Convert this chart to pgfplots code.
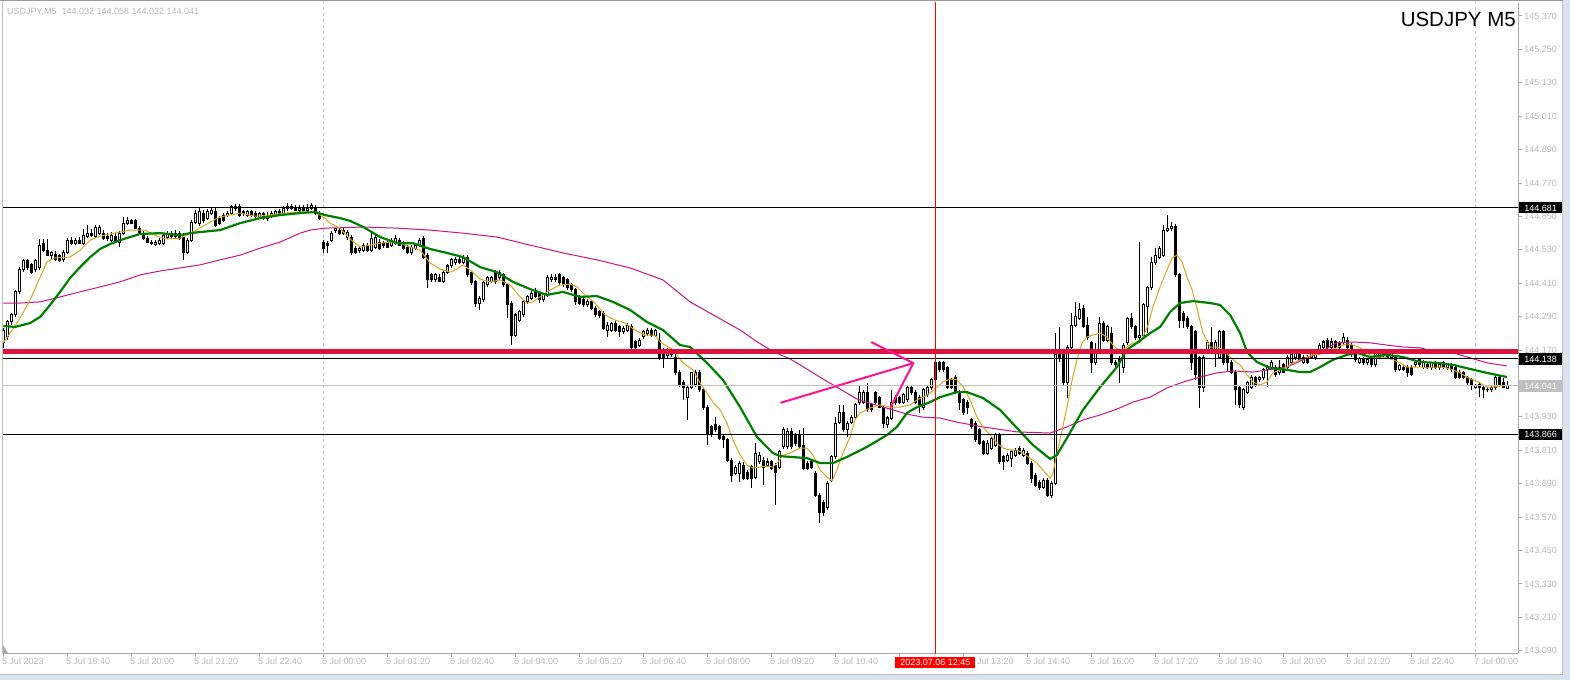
\documentclass[border=0pt]{standalone}
\usepackage{pgfplots}
\pgfplotsset{compat=1.18}
\usepackage{pgfplotstable}
\usepackage{fontspec}
\setmainfont{Liberation Sans}
\definecolor{tickgray}{RGB}{185,185,185}
\definecolor{axisgray}{RGB}{170,170,170}
\definecolor{silver}{RGB}{192,192,192}
\definecolor{maorange}{RGB}{218,165,32}
\definecolor{magreen}{RGB}{0,128,0}
\definecolor{mamag}{RGB}{199,21,133}
\definecolor{crimsonl}{RGB}{220,20,60}
\definecolor{arrowpink}{RGB}{255,20,147}
\definecolor{bandblue}{RGB}{218,228,240}

\pgfplotstableread{
x o h l c
0 144.196 144.249 144.178 144.239
1 144.217 144.278 144.206 144.271
2 144.271 144.303 144.260 144.296
3 144.296 144.386 144.289 144.379
4 144.379 144.468 144.371 144.461
5 144.458 144.497 144.450 144.490
6 144.490 144.497 144.458 144.465
7 144.476 144.483 144.443 144.450
8 144.458 144.497 144.450 144.490
9 144.465 144.569 144.458 144.544
10 144.554 144.569 144.522 144.529
11 144.526 144.569 144.508 144.511
12 144.511 144.526 144.497 144.519
13 144.515 144.526 144.490 144.497
14 144.508 144.515 144.486 144.490
15 144.494 144.529 144.486 144.522
16 144.522 144.572 144.515 144.565
17 144.565 144.576 144.547 144.554
18 144.554 144.572 144.547 144.565
19 144.565 144.576 144.551 144.554
20 144.554 144.605 144.547 144.583
21 144.579 144.619 144.572 144.590
22 144.590 144.605 144.576 144.583
23 144.579 144.619 144.572 144.612
24 144.590 144.619 144.583 144.612
25 144.590 144.601 144.565 144.572
26 144.579 144.590 144.562 144.569
27 144.565 144.594 144.558 144.583
28 144.579 144.590 144.554 144.558
29 144.558 144.598 144.540 144.590
30 144.590 144.648 144.583 144.626
31 144.626 144.648 144.619 144.634
32 144.634 144.641 144.623 144.626
33 144.634 144.641 144.605 144.608
34 144.608 144.615 144.587 144.594
35 144.590 144.598 144.565 144.572
36 144.572 144.579 144.554 144.558
37 144.558 144.565 144.547 144.554
38 144.551 144.565 144.544 144.558
39 144.554 144.572 144.547 144.565
40 144.554 144.590 144.547 144.583
41 144.576 144.598 144.569 144.590
42 144.590 144.598 144.572 144.579
43 144.579 144.601 144.572 144.590
44 144.587 144.598 144.565 144.572
45 144.576 144.590 144.494 144.522
46 144.522 144.572 144.515 144.565
47 144.565 144.637 144.558 144.630
48 144.630 144.673 144.623 144.662
49 144.623 144.680 144.615 144.666
50 144.662 144.673 144.626 144.634
51 144.644 144.677 144.637 144.666
52 144.662 144.684 144.655 144.673
53 144.666 144.680 144.612 144.619
54 144.641 144.651 144.619 144.626
55 144.655 144.662 144.630 144.637
56 144.655 144.670 144.648 144.662
57 144.662 144.691 144.655 144.684
58 144.677 144.695 144.670 144.687
59 144.684 144.695 144.648 144.655
60 144.666 144.673 144.651 144.659
61 144.655 144.673 144.648 144.666
62 144.666 144.673 144.648 144.655
63 144.659 144.670 144.644 144.648
64 144.648 144.666 144.641 144.659
65 144.659 144.666 144.637 144.644
66 144.655 144.666 144.634 144.641
67 144.651 144.670 144.644 144.662
68 144.655 144.673 144.648 144.666
69 144.666 144.677 144.651 144.655
70 144.662 144.687 144.655 144.680
71 144.677 144.698 144.670 144.687
72 144.687 144.695 144.673 144.680
73 144.680 144.691 144.670 144.673
74 144.673 144.691 144.666 144.680
75 144.680 144.691 144.670 144.673
76 144.673 144.695 144.666 144.680
77 144.680 144.698 144.673 144.691
78 144.680 144.691 144.655 144.662
79 144.662 144.670 144.637 144.644
80 144.558 144.565 144.519 144.536
81 144.554 144.562 144.519 144.544
82 144.565 144.598 144.558 144.590
83 144.598 144.608 144.590 144.605
84 144.601 144.608 144.583 144.590
85 144.590 144.608 144.583 144.601
86 144.576 144.601 144.565 144.594
87 144.576 144.583 144.511 144.519
88 144.536 144.544 144.515 144.522
89 144.526 144.544 144.519 144.536
90 144.529 144.554 144.522 144.547
91 144.547 144.554 144.522 144.529
92 144.529 144.598 144.522 144.572
93 144.540 144.583 144.533 144.576
94 144.558 144.569 144.529 144.536
95 144.554 144.562 144.536 144.544
96 144.558 144.565 144.536 144.540
97 144.547 144.572 144.540 144.565
98 144.554 144.583 144.547 144.572
99 144.565 144.572 144.544 144.547
100 144.554 144.562 144.529 144.536
101 144.540 144.547 144.515 144.522
102 144.522 144.547 144.511 144.540
103 144.536 144.554 144.529 144.547
104 144.547 144.572 144.540 144.565
105 144.569 144.579 144.497 144.504
106 144.511 144.519 144.393 144.422
107 144.440 144.447 144.415 144.422
108 144.422 144.447 144.415 144.440
109 144.432 144.443 144.415 144.418
110 144.418 144.458 144.411 144.450
111 144.450 144.479 144.443 144.472
112 144.472 144.501 144.465 144.494
113 144.483 144.504 144.476 144.497
114 144.497 144.504 144.479 144.486
115 144.486 144.511 144.479 144.504
116 144.504 144.511 144.432 144.440
117 144.447 144.454 144.404 144.411
118 144.415 144.422 144.325 144.339
119 144.339 144.364 144.314 144.357
120 144.350 144.418 144.343 144.411
121 144.404 144.436 144.397 144.429
122 144.418 144.436 144.411 144.429
123 144.450 144.458 144.407 144.415
124 144.429 144.458 144.422 144.450
125 144.440 144.447 144.397 144.404
126 144.404 144.411 144.285 144.332
127 144.339 144.346 144.188 144.224
128 144.224 144.303 144.217 144.296
129 144.278 144.314 144.271 144.307
130 144.296 144.350 144.289 144.343
131 144.343 144.368 144.336 144.361
132 144.357 144.382 144.350 144.375
133 144.379 144.393 144.357 144.361
134 144.375 144.382 144.339 144.350
135 144.350 144.375 144.343 144.368
136 144.368 144.440 144.361 144.429
137 144.422 144.443 144.415 144.432
138 144.432 144.443 144.415 144.422
139 144.440 144.447 144.404 144.411
140 144.429 144.436 144.397 144.404
141 144.422 144.429 144.386 144.393
142 144.404 144.411 144.379 144.386
143 144.386 144.393 144.332 144.343
144 144.361 144.368 144.332 144.339
145 144.350 144.357 144.325 144.332
146 144.332 144.354 144.325 144.343
147 144.343 144.350 144.314 144.321
148 144.321 144.328 144.289 144.296
149 144.307 144.314 144.285 144.293
150 144.303 144.310 144.242 144.249
151 144.242 144.271 144.217 144.260
152 144.242 144.271 144.235 144.267
153 144.267 144.275 144.235 144.242
154 144.253 144.260 144.217 144.235
155 144.235 144.257 144.228 144.249
156 144.242 144.267 144.235 144.260
157 144.253 144.264 144.171 144.178
158 144.199 144.206 144.171 144.178
159 144.188 144.214 144.181 144.206
160 144.217 144.242 144.210 144.235
161 144.228 144.249 144.221 144.242
162 144.242 144.249 144.217 144.224
163 144.224 144.246 144.217 144.239
164 144.206 144.231 144.135 144.145
165 144.171 144.178 144.106 144.145
166 144.149 144.178 144.142 144.171
167 144.171 144.178 144.145 144.153
168 144.145 144.160 144.081 144.088
169 144.091 144.099 144.037 144.045
170 144.052 144.063 143.991 144.034
171 144.001 144.041 143.919 144.034
172 144.037 144.091 144.030 144.088
173 144.045 144.099 144.037 144.091
174 144.091 144.099 144.019 144.027
175 144.027 144.034 143.955 143.962
176 143.965 143.973 143.829 143.865
177 143.894 143.901 143.858 143.865
178 143.901 143.929 143.876 143.883
179 143.894 143.901 143.847 143.854
180 143.858 143.865 143.818 143.847
181 143.847 143.854 143.768 143.775
182 143.775 143.782 143.696 143.721
183 143.728 143.757 143.721 143.750
184 143.728 143.771 143.696 143.764
185 143.757 143.768 143.703 143.710
186 143.732 143.739 143.703 143.710
187 143.750 143.757 143.674 143.710
188 143.714 143.836 143.707 143.800
189 143.768 143.804 143.761 143.793
190 143.775 143.786 143.685 143.750
191 143.757 143.782 143.750 143.768
192 143.768 143.775 143.739 143.746
193 143.757 143.764 143.613 143.732
194 143.750 143.811 143.743 143.804
195 143.822 143.894 143.814 143.883
196 143.822 143.890 143.814 143.876
197 143.876 143.890 143.814 143.822
198 143.865 143.872 143.825 143.836
199 143.865 143.883 143.818 143.822
200 143.829 143.890 143.739 143.746
201 143.764 143.771 143.739 143.746
202 143.768 143.775 143.743 143.750
203 143.728 143.735 143.642 143.649
204 143.649 143.656 143.549 143.585
205 143.624 143.631 143.574 143.585
206 143.606 143.700 143.595 143.692
207 143.703 143.793 143.696 143.786
208 143.786 143.929 143.779 143.908
209 143.911 143.973 143.904 143.947
210 143.944 143.973 143.876 143.883
211 143.883 143.915 143.858 143.908
212 143.911 143.937 143.904 143.929
213 143.929 143.980 143.922 143.973
214 143.980 144.045 143.973 144.019
215 143.983 144.027 143.976 144.019
216 144.019 144.052 143.947 143.955
217 143.973 143.980 143.947 143.955
218 144.016 144.023 143.973 143.980
219 143.998 144.005 143.962 143.965
220 143.965 143.973 143.890 143.908
221 143.901 143.933 143.890 143.926
222 143.926 144.027 143.919 143.983
223 144.001 144.009 143.973 143.980
224 143.998 144.005 143.976 143.983
225 143.983 144.016 143.976 144.009
226 143.991 144.041 143.983 144.034
227 144.034 144.041 144.009 144.016
228 144.019 144.027 143.976 143.983
229 144.001 144.009 143.944 143.973
230 143.965 144.034 143.955 144.027
231 144.009 144.045 144.001 144.037
232 144.034 144.070 144.027 144.063
233 144.063 144.135 144.055 144.124
234 144.124 144.131 144.091 144.099
235 144.124 144.131 144.091 144.099
236 144.106 144.113 144.030 144.037
237 144.063 144.070 144.030 144.037
238 144.070 144.081 144.012 144.019
239 144.019 144.027 143.955 143.983
240 143.991 143.998 143.937 143.944
241 143.983 143.991 143.940 143.965
242 143.919 143.926 143.886 143.894
243 143.908 143.915 143.840 143.847
244 143.883 143.890 143.829 143.836
245 143.840 143.847 143.793 143.800
246 143.800 143.847 143.793 143.836
247 143.818 143.861 143.811 143.854
248 143.829 143.872 143.822 143.865
249 143.865 143.872 143.761 143.768
250 143.786 143.793 143.739 143.768
251 143.775 143.800 143.768 143.793
252 143.782 143.811 143.750 143.804
253 143.793 143.818 143.786 143.811
254 143.818 143.825 143.793 143.800
255 143.793 143.818 143.786 143.811
256 143.800 143.807 143.757 143.764
257 143.764 143.771 143.692 143.710
258 143.721 143.728 143.678 143.685
259 143.696 143.703 143.667 143.678
260 143.678 143.710 143.671 143.703
261 143.703 143.710 143.642 143.649
262 143.649 143.700 143.638 143.692
263 143.692 144.231 143.685 144.153
264 144.153 144.253 144.127 144.142
265 144.160 144.171 144.045 144.052
266 144.052 144.188 143.998 144.181
267 144.181 144.303 144.174 144.260
268 144.260 144.343 144.253 144.289
269 144.285 144.339 144.278 144.314
270 144.321 144.332 144.249 144.253
271 144.260 144.289 144.206 144.214
272 144.196 144.203 144.088 144.124
273 144.124 144.196 144.117 144.171
274 144.171 144.289 144.163 144.267
275 144.267 144.275 144.199 144.206
276 144.206 144.260 144.199 144.253
277 144.231 144.253 144.117 144.127
278 144.127 144.135 144.106 144.117
279 144.135 144.149 144.052 144.124
280 144.109 144.196 144.088 144.188
281 144.196 144.289 144.188 144.285
282 144.285 144.303 144.246 144.253
283 144.253 144.260 144.206 144.214
284 144.214 144.558 144.196 144.224
285 144.224 144.339 144.217 144.332
286 144.325 144.400 144.231 144.393
287 144.393 144.504 144.386 144.486
288 144.483 144.536 144.476 144.511
289 144.504 144.544 144.497 144.536
290 144.511 144.619 144.504 144.601
291 144.601 144.655 144.594 144.608
292 144.605 144.630 144.598 144.615
293 144.615 144.623 144.432 144.440
294 144.440 144.447 144.249 144.278
295 144.303 144.310 144.249 144.278
296 144.285 144.293 144.246 144.253
297 144.253 144.260 144.099 144.127
298 144.235 144.242 144.063 144.081
299 144.142 144.149 143.962 144.037
300 144.037 144.153 144.019 144.145
301 144.171 144.206 144.163 144.196
302 144.196 144.253 144.163 144.171
303 144.171 144.206 144.109 144.196
304 144.145 144.242 144.138 144.235
305 144.235 144.242 144.117 144.124
306 144.160 144.171 144.091 144.124
307 144.127 144.135 144.084 144.091
308 144.091 144.099 143.973 144.027
309 144.034 144.041 143.962 143.973
310 143.965 144.034 143.955 144.027
311 144.019 144.059 144.012 144.052
312 144.037 144.081 144.030 144.073
313 144.070 144.077 144.037 144.045
314 144.063 144.077 144.055 144.070
315 144.070 144.106 144.063 144.099
316 144.099 144.117 144.037 144.109
317 144.109 144.135 144.102 144.127
318 144.109 144.117 144.073 144.081
319 144.088 144.135 144.081 144.109
320 144.117 144.124 144.088 144.091
321 144.109 144.153 144.102 144.145
322 144.127 144.160 144.120 144.153
323 144.142 144.163 144.135 144.160
324 144.160 144.167 144.127 144.135
325 144.127 144.153 144.120 144.145
326 144.145 144.153 144.120 144.127
327 144.145 144.163 144.138 144.156
328 144.142 144.171 144.135 144.163
329 144.160 144.196 144.153 144.188
330 144.178 144.206 144.171 144.199
331 144.206 144.214 144.171 144.178
332 144.178 144.214 144.171 144.199
333 144.199 144.206 144.178 144.181
334 144.196 144.203 144.174 144.181
335 144.196 144.231 144.188 144.214
336 144.206 144.217 144.171 144.178
337 144.188 144.196 144.145 144.153
338 144.153 144.160 144.127 144.135
339 144.127 144.145 144.120 144.138
340 144.138 144.145 144.117 144.124
341 144.124 144.142 144.117 144.135
342 144.135 144.142 144.109 144.117
343 144.117 144.167 144.109 144.160
344 144.145 144.167 144.138 144.160
345 144.160 144.167 144.142 144.149
346 144.160 144.167 144.138 144.145
347 144.142 144.167 144.135 144.160
348 144.142 144.149 144.091 144.099
349 144.102 144.120 144.095 144.113
350 144.109 144.117 144.095 144.099
351 144.109 144.117 144.073 144.088
352 144.109 144.117 144.077 144.081
353 144.117 144.135 144.109 144.127
354 144.135 144.142 144.109 144.117
355 144.109 144.135 144.102 144.127
356 144.117 144.124 144.102 144.106
357 144.106 144.127 144.099 144.124
358 144.124 144.131 144.102 144.106
359 144.106 144.124 144.099 144.117
360 144.124 144.131 144.102 144.106
361 144.106 144.124 144.099 144.117
362 144.117 144.124 144.091 144.099
363 144.106 144.113 144.066 144.073
364 144.091 144.099 144.066 144.073
365 144.088 144.095 144.066 144.073
366 144.070 144.077 144.045 144.052
367 144.063 144.070 144.027 144.045
368 144.037 144.048 144.030 144.041
369 144.045 144.052 144.001 144.034
370 144.034 144.041 143.998 144.027
371 144.027 144.037 144.019 144.030
372 144.027 144.041 144.019 144.034
373 144.034 144.081 144.027 144.070
374 144.070 144.081 144.037 144.045
375 144.052 144.070 144.034 144.037
376 144.032 144.058 144.032 144.041
}\candles

\begin{document}
\begin{tikzpicture}[x=1pt,y=1pt]
\useasboundingbox (0,0) rectangle (1570,680);
\fill[white] (0,0) rectangle (1570,680);
% window frame
\fill[bandblue] (1563,0) rectangle (1570,680);
\fill[bandblue] (0,0) rectangle (1570,5.5);
\draw[silver, line width=0.8pt] (0,6) -- (1562.5,6) -- (1562.5,680);
\draw[gray!80, line width=1.3pt] (0,679.4) -- (1563,679.4);
\draw[silver, line width=0.8pt] (2.4,27) -- (2.4,679);
\fill[axisgray] (3,35) -- (3,27) -- (8,27) -- cycle;

\begin{axis}[
  at={(3pt,27pt)}, anchor=south west,
  width=1515pt, height=650pt, scale only axis,
  xmin=-0.075, xmax=378.675, ymin=143.0819, ymax=145.4167,
  axis x line*=bottom, axis y line*=right,
  axis line style={draw=axisgray, line width=1pt},
  tick align=outside, major tick length=4pt,
  tick style={draw=axisgray, line width=1pt},
  xtick={0,16,...,368},
  xticklabels={5 Jul 2023,5 Jul 18:40,5 Jul 20:00,5 Jul 21:20,5 Jul 22:40,6 Jul 00:00,6 Jul 01:20,6 Jul 02:40,6 Jul 04:00,6 Jul 05:20,6 Jul 06:40,6 Jul 08:00,6 Jul 09:20,6 Jul 10:40,{},{},6 Jul 14:40,6 Jul 16:00,6 Jul 17:20,6 Jul 18:40,6 Jul 20:00,6 Jul 21:20,6 Jul 22:40,7 Jul 00:00},
  ytick={143.09,143.21,143.33,143.45,143.57,143.69,143.81,143.93,144.05,144.17,144.29,144.41,144.53,144.65,144.77,144.89,145.01,145.13,145.25,145.37},
  yticklabels={143.090,143.210,143.330,143.450,143.570,143.690,143.810,143.930,{},144.170,144.290,144.410,144.530,144.650,144.770,144.890,145.010,145.130,145.250,145.370},
  /pgf/number format/assume math mode=true,
  xticklabel style={anchor=north west, inner sep=0pt, xshift=-1.5pt, yshift=-0.5pt, font=\fontsize{9}{10}\selectfont, text=tickgray},
  yticklabel style={anchor=west, inner sep=0pt, xshift=2pt, font=\fontsize{9}{10}\selectfont, text=tickgray},
  clip=true,
]
% day separators
\addplot[silver, line width=1pt, dash pattern=on 3pt off 3pt, forget plot] coordinates {(80,143.0) (80,145.5)};
\addplot[silver, line width=1pt, dash pattern=on 3pt off 3pt, forget plot] coordinates {(368,143.0) (368,145.5)};

% wicks
\addplot[draw=none, forget plot, error bars/.cd, y dir=plus, y explicit, error mark=none,
  error bar style={draw=black, line width=1pt, line cap=butt}]
  table[x=x, y expr={\thisrow{l}}, y error plus expr={\thisrow{h}-\thisrow{l}}] {\candles};
% bodies (outline / bearish fill)
\addplot[draw=none, forget plot, error bars/.cd, y dir=plus, y explicit, error mark=none,
  error bar style={draw=black, line width=3pt, line cap=butt}]
  table[x=x, y expr={min(\thisrow{o},\thisrow{c})-0.0018}, y error plus expr={abs(\thisrow{c}-\thisrow{o})+0.0036}] {\candles};
% bullish inner white
\addplot[draw=none, forget plot, error bars/.cd, y dir=plus, y explicit, error mark=none,
  error bar style={draw=white, line width=1pt, line cap=butt}]
  table[x=x, y expr={\thisrow{o}+0.0018}, y error plus expr={max(\thisrow{c}-\thisrow{o}-0.0036,0)}] {\candles};

% moving averages
\addplot[mamag, line width=1pt] coordinates {
(0,144.339) (4.2,144.339) (9.2,144.343) (14.2,144.361) (19.2,144.379) (24.2,144.397) (29.2,144.415) (34.2,144.440) (39.2,144.454) (44.2,144.465) (49.2,144.476) (54.2,144.494) (59.2,144.511) (64.2,144.536) (69.2,144.558) (74.2,144.590) (76.7,144.601) (80.4,144.608) (90,144.612) (98.4,144.608) (106.7,144.601) (114.9,144.590) (123.4,144.576) (131.7,144.547) (139.9,144.519) (148.4,144.494) (156.7,144.465) (164.9,144.422) (171.7,144.343) (184.2,144.242) (188.4,144.200) (192.4,144.165) (196.7,144.138) (200.9,144.102) (204.9,144.066) (209.2,144.030) (213.4,143.994) (217.4,143.976) (221.7,143.958) (225.9,143.940) (229.9,143.929) (234.2,143.926) (238.4,143.911) (244.9,143.894) (253.4,143.876) (261.7,143.872) (265.9,143.894) (269.9,143.919) (274.2,143.937) (278.4,143.958) (282.4,143.983) (286.7,144.001) (290.9,144.034) (294.9,144.055) (299.2,144.073) (303.4,144.088) (307.4,144.095) (312.4,144.091) (320.9,144.109) (324.9,144.135) (329.2,144.163) (333.4,144.196) (337.4,144.199) (341.7,144.196) (345.9,144.188) (349.9,144.181) (354.2,144.178) (358.4,144.163) (362.4,144.160) (366.7,144.142) (370.9,144.124) (375.9,144.113)};
\addplot[maorange, line width=1pt] coordinates {
(0,144.196) (1.7,144.231) (4.2,144.285) (6.7,144.350) (9.2,144.432) (10.9,144.486) (12.9,144.501) (16.7,144.504) (19.2,144.529) (21.7,144.565) (24.2,144.579) (26.7,144.587) (29.2,144.594) (31.7,144.601) (35.4,144.601) (37.9,144.583) (40.4,144.569) (44.2,144.572) (46.7,144.590) (49.2,144.608) (51.7,144.630) (54.2,144.648) (56.7,144.655) (59.2,144.662) (62.9,144.651) (66.7,144.655) (70.4,144.662) (74.2,144.666) (77.9,144.666) (80.4,144.644) (81.7,144.626) (84.2,144.608) (86.7,144.569) (89.2,144.540) (91.7,144.547) (94.2,144.554) (96.7,144.558) (99.2,144.554) (101.7,144.540) (104.2,144.529) (106.7,144.483) (109.2,144.461) (111.7,144.450) (113.4,144.461) (114.9,144.476) (116.7,144.458) (119.2,144.425) (121.7,144.415) (124.2,144.422) (126.7,144.404) (129.2,144.361) (130.9,144.339) (132.4,144.343) (134.2,144.361) (136.7,144.386) (139.2,144.404) (141.7,144.407) (143.4,144.397) (145.4,144.368) (147.9,144.339) (150.4,144.296) (152.9,144.278) (155.4,144.267) (157.9,144.242) (160.4,144.224) (162.9,144.224) (164.2,144.199) (167.4,144.171) (169.9,144.124) (172.4,144.099) (174.2,144.052) (175.9,144.016) (177.4,143.983) (179.2,143.955) (180.9,143.908) (182.4,143.847) (184.2,143.793) (185.9,143.757) (187.4,143.746) (189.2,143.750) (190.9,143.753) (192.4,143.750) (193.7,143.768) (194.9,143.793) (196.7,143.800) (199.2,143.818) (200.9,143.818) (202.4,143.793) (204.2,143.739) (205.9,143.714) (207.2,143.700) (208.4,143.739) (209.9,143.800) (211.7,143.858) (212.9,143.919) (214.2,143.944) (216.7,143.962) (219.2,143.973) (221.7,143.965) (224.2,143.965) (226.7,143.973) (228.4,143.991) (229.9,144.001) (231.7,144.016) (233.4,144.037) (234.9,144.055) (236.7,144.066) (238.4,144.063) (240.0,144.037) (241.7,143.991) (243.4,143.929) (244.9,143.894) (246.7,143.865) (248.4,143.836) (249.9,143.818) (251.7,143.811) (253.4,143.811) (254.9,143.800) (256.7,143.782) (258.4,143.764) (259.9,143.739) (261.7,143.710) (262.4,143.728) (263.4,143.800) (264.7,143.883) (265.9,143.965) (267.2,144.063) (268.4,144.135) (269.7,144.196) (270.9,144.217) (272.4,144.224) (274.2,144.231) (275.9,144.217) (277.4,144.188) (279.2,144.163) (280.9,144.181) (282.4,144.196) (284.2,144.196) (284.9,144.217) (286.2,144.260) (287.4,144.325) (289.2,144.397) (290.9,144.458) (292.2,144.501) (293.4,144.511) (294.7,144.486) (295.9,144.432) (297.2,144.386) (298.4,144.321) (299.9,144.231) (301.7,144.181) (303.4,144.181) (304.9,144.171) (306.7,144.145) (308.4,144.124) (309.2,144.117) (310.9,144.081) (312.4,144.055) (314.2,144.045) (315.9,144.055) (317.4,144.088) (319.2,144.099) (320.9,144.109) (322.4,144.124) (324.2,144.135) (325.9,144.145) (327.4,144.153) (329.2,144.156) (330.9,144.160) (332.4,144.171) (334.2,144.185) (335.9,144.192) (337.4,144.188) (339.2,144.178) (340.9,144.160) (342.4,144.145) (344.2,144.145) (345.9,144.142) (347.4,144.135) (349.2,144.124) (350.9,144.109) (352.4,144.109) (354.2,144.109) (355.9,144.106) (357.4,144.109) (359.2,144.109) (360.9,144.106) (362.4,144.099) (364.2,144.088) (365.9,144.073) (367.4,144.063) (369.2,144.052) (370.9,144.037) (372.4,144.037) (374.2,144.041) (375.9,144.041)};
\addplot[magreen, line width=2.2pt] coordinates {
(0,144.257) (2.9,144.253) (6.7,144.267) (9.2,144.289) (11.7,144.332) (14.2,144.379) (16.7,144.429) (19.2,144.468) (21.7,144.504) (24.2,144.533) (26.7,144.551) (29.2,144.565) (31.7,144.576) (34.2,144.587) (39.2,144.590) (44.2,144.583) (46.7,144.590) (49.2,144.594) (54.2,144.601) (59.2,144.626) (64.2,144.644) (69.2,144.655) (74.2,144.662) (77.9,144.666) (80.4,144.655) (84.2,144.644) (86.7,144.634) (90,144.612) (94.2,144.576) (98.4,144.554) (102.4,144.554) (106.7,144.533) (110.9,144.519) (114.9,144.504) (119.2,144.468) (123.4,144.450) (127.4,144.415) (131.7,144.389) (135.9,144.368) (139.9,144.379) (144.2,144.361) (148.4,144.364) (152.4,144.343) (156.7,144.314) (160.9,144.271) (164.9,144.242) (169.2,144.188) (171.7,144.181) (175.9,144.124) (179.9,144.063) (184.2,143.965) (188.4,143.858) (192.4,143.800) (194.2,143.789) (200.9,143.782) (204.2,143.764) (207.4,143.764) (210.9,143.786) (215.9,143.822) (220.9,143.865) (223.4,143.894) (225.9,143.944) (228.4,143.965) (231.7,143.983) (234.2,144.001) (238.4,144.019) (240.9,144.019) (244.9,143.998) (249.2,143.955) (253.4,143.890) (257.4,143.829) (261.7,143.779) (263.4,143.793) (265.9,143.854) (269.9,143.955) (274.2,144.037) (278.4,144.109) (280.9,144.171) (283.4,144.196) (286.7,144.231) (289.2,144.253) (291.7,144.307) (294.2,144.339) (297.4,144.346) (301.7,144.339) (304.2,144.332) (306.7,144.296) (309.2,144.231) (310.9,144.163) (313.4,144.127) (316.7,144.106) (320.9,144.099) (324.2,144.091) (326.7,144.091) (329.2,144.109) (332.4,144.135) (335.9,144.153) (338.4,144.160) (341.7,144.145) (345.9,144.153) (349.9,144.145) (354.2,144.127) (358.4,144.124) (362.4,144.117) (366.7,144.102) (370.9,144.088) (375.9,144.073)};

% horizontal objects
\addplot[black, line width=1pt, forget plot] coordinates {(-1,144.681) (380,144.681)};
\addplot[black, line width=1pt, forget plot] coordinates {(-1,144.138) (380,144.138)};
\addplot[black, line width=1pt, forget plot] coordinates {(-1,143.866) (380,143.866)};
\addplot[silver, line width=1pt, forget plot] coordinates {(-1,144.041) (380,144.041)};
\addplot[crimsonl, line width=5pt, forget plot] coordinates {(-1,144.1655) (380,144.1655)};
% vertical red line
\addplot[red, line width=1pt, forget plot] coordinates {(233,143.0) (233,145.5)};
% pink arrow
\draw[arrowpink, line width=2pt, line cap=round, line join=round]
  (axis cs:194.4,143.981) -- (axis cs:227.5,144.123);
\draw[arrowpink, line width=2pt, line cap=round, line join=round]
  (axis cs:217.1,144.198) -- (axis cs:227.5,144.123) -- (axis cs:221.9,143.967);

\coordinate (pA) at (axis cs:378.675,144.681);
\coordinate (pB) at (axis cs:378.675,144.138);
\coordinate (pC) at (axis cs:378.675,144.041);
\coordinate (pD) at (axis cs:378.675,143.866);
\coordinate (tR) at (axis cs:233,143.0819);
\coordinate (tL) at (axis cs:240,143.0819);
\end{axis}

\tikzset{pricebox/.style={anchor=west, inner xsep=5pt, inner ysep=2.3pt, text height=6.5pt, text depth=0pt, text=white, font=\fontsize{9}{10}\selectfont}}
\node[pricebox, fill=black] at ([xshift=1pt]pA) {144.681};
\node[pricebox, fill=black] at ([xshift=1pt]pB) {144.138};
\node[pricebox, fill=silver] at ([xshift=1pt]pC) {144.041};
\node[pricebox, fill=black] at ([xshift=1pt]pD) {143.866};
\node[fill=red, text=white, inner xsep=5pt, inner ysep=2.3pt, text height=6.5pt, text depth=0pt, font=\fontsize{9}{10}\selectfont] at ([yshift=-9.5pt]tR) {2023.07.06 12:45};
% partly hidden tick label next to the red time box
\node[anchor=north west, inner sep=0pt, text=tickgray, font=\fontsize{9}{10}\selectfont] at (977,22.5) {Jul 13:20};

\node[anchor=west, inner sep=0pt, text=tickgray, font=\fontsize{9}{10}\selectfont] at (7,668) {USDJPY,M5\ \ 144.032 144.058 144.032 144.041};
\node[anchor=base east, inner sep=0pt, font=\fontsize{20.5}{22}\selectfont] at (1516,653.5) {USDJPY M5};
\end{tikzpicture}
\end{document}
